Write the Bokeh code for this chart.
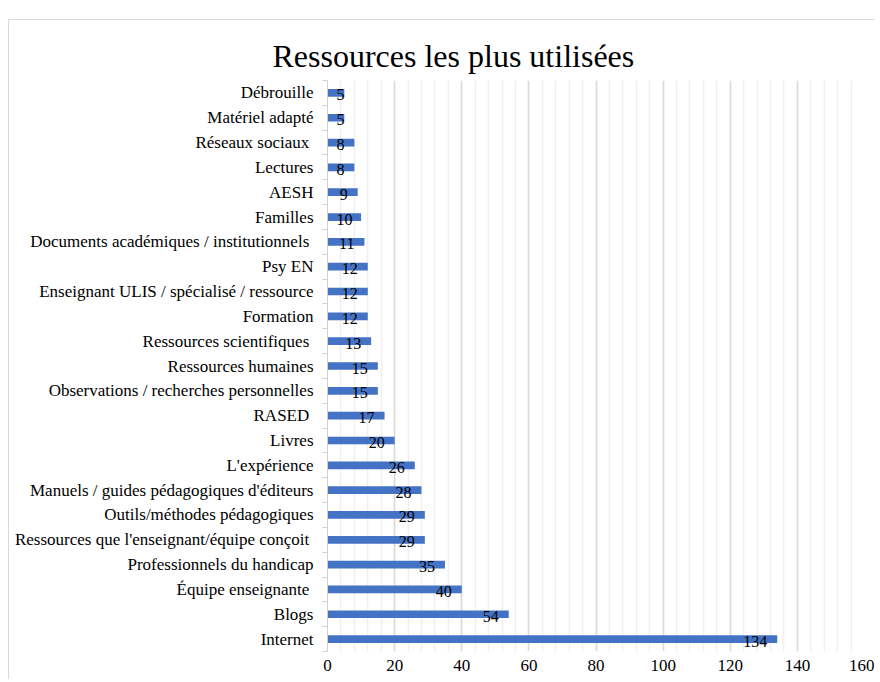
from bokeh.plotting import figure
from bokeh.models import Range1d, FixedTicker, SingleIntervalTicker, ColumnDataSource
from bokeh.core.properties import value
from bokeh.embed import file_html
from bokeh.resources import INLINE

# Data (bottom to top, as in the chart)
categories = [
    "Internet",
    "Blogs",
    "Équipe enseignante ",
    "Professionnels du handicap",
    "Ressources que l'enseignant/équipe conçoit ",
    "Outils/méthodes pédagogiques",
    "Manuels / guides pédagogiques d'éditeurs",
    "L'expérience",
    "Livres",
    "RASED ",
    "Observations / recherches personnelles",
    "Ressources humaines",
    "Ressources scientifiques ",
    "Formation",
    "Enseignant ULIS / spécialisé / ressource",
    "Psy EN",
    "Documents académiques / institutionnels ",
    "Familles",
    "AESH",
    "Lectures",
    "Réseaux sociaux ",
    "Matériel adapté",
    "Débrouille",
]
counts = [134, 54, 40, 35, 29, 29, 28, 26, 20, 17, 15, 15, 13, 12, 12, 12, 11, 10, 9, 8, 8, 5, 5]
x_ticks = [0, 20, 40, 60, 80, 100, 120, 140, 160]

FONT = "'Liberation Serif', 'Times New Roman', serif"
X_MAX = 160
W, H = 866, 660
LEFT, RIGHT, TOP, BOTTOM = 318, 11, 60, 29
frame_w = W - LEFT - RIGHT
px_per_unit = frame_w / X_MAX

idx = list(range(len(categories)))

p = figure(width=W, height=H, output_backend="svg", toolbar_location=None,
           x_range=Range1d(0, X_MAX), y_range=Range1d(-0.5, len(categories) - 0.5),
           min_border_left=LEFT, min_border_right=RIGHT,
           min_border_top=TOP, min_border_bottom=BOTTOM)
p.styles = {"margin-top": "19px", "margin-left": "8px",
            "border-top": "1px solid #d9d9d9", "border-left": "1px solid #d9d9d9"}
p.outline_line_color = None
p.background_fill_color = "white"
p.border_fill_color = "white"

p.title.text = "Ressources les plus utilisées"
p.title.text_font = FONT
p.title.text_font_size = "32px"
p.title.text_font_style = "normal"
p.title.text_color = "#000000"
p.title.align = "left"
p.title.vertical_align = "top"
p.title.offset = -55
p.title.standoff = 10

# bars
src = ColumnDataSource(dict(y=idx, v=counts))
p.hbar(y="y", right="v", left=0, height=0.31, source=src,
       fill_color="#4472C4", line_color=None)

# data labels: inside end, kept clear of the axis for short bars
lab_r = dict(y=[], v=[], t=[])
lab_l = dict(y=[], v=[], t=[])
for i, c in zip(idx, counts):
    txt = str(c)
    w = 8 * len(txt)
    if c * px_per_unit - 10 - w >= 9:
        lab_r["y"].append(i); lab_r["v"].append(c); lab_r["t"].append(txt)
    else:
        lab_l["y"].append(i); lab_l["v"].append(0); lab_l["t"].append(txt)
common = dict(text_font=value(FONT), text_font_size="16px", text_font_style="normal",
              text_color="#000000", text_baseline="middle", y_offset=2)
p.text(x="v", y="y", text="t", source=ColumnDataSource(lab_r),
       text_align="right", x_offset=-10, **common)
p.text(x="v", y="y", text="t", source=ColumnDataSource(lab_l),
       text_align="left", x_offset=9, **common)

# x axis
xa = p.xaxis[0]
xa.ticker = SingleIntervalTicker(interval=20, num_minor_ticks=5)
xa.axis_line_color = None
xa.major_tick_line_color = None
xa.minor_tick_line_color = None
xa.major_tick_out = 0
xa.minor_tick_out = 0
xa.major_label_text_font = FONT
xa.major_label_text_font_style = "normal"
xa.major_label_text_font_size = "17px"
xa.major_label_text_color = "#000000"
xa.major_label_standoff = 8

# y axis
ya = p.yaxis[0]
ya.ticker = FixedTicker(ticks=idx, minor_ticks=[i - 0.5 for i in idx] + [len(idx) - 0.5])
ya.major_label_overrides = {i: c for i, c in zip(idx, categories)}
ya.axis_line_color = "#d0d0d0"
ya.major_tick_line_color = None
ya.minor_tick_line_color = "#d0d0d0"
ya.minor_tick_out = 5
ya.minor_tick_in = 0
ya.major_tick_out = 0
ya.major_tick_in = 0
ya.major_label_standoff = 9
ya.major_label_text_font = FONT
ya.major_label_text_font_style = "normal"
ya.major_label_text_font_size = "17px"
ya.major_label_text_color = "#000000"

# grids
p.ygrid.grid_line_color = None
p.xgrid.grid_line_color = "#d9d9d9"
p.xgrid.grid_line_width = 1.5
p.xgrid.minor_grid_line_color = "#efefef"
p.xgrid.minor_grid_line_width = 1.5

open("out.html", "w").write(file_html(p, INLINE))
